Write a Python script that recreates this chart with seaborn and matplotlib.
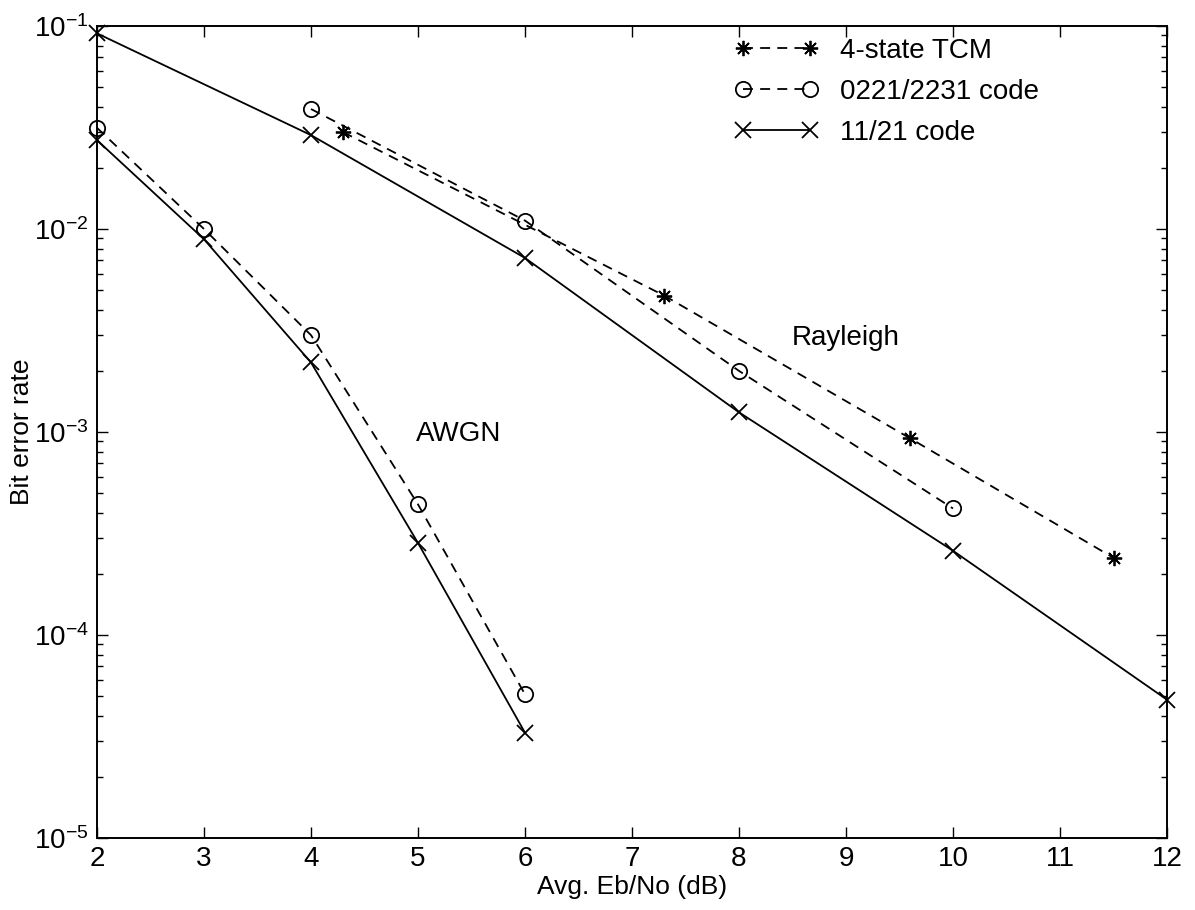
import numpy as np
import pandas as pd
import matplotlib
matplotlib.use("Agg")
import matplotlib.pyplot as plt
import seaborn as sns
from matplotlib.ticker import LogLocator, FixedLocator

# ---- data ----
tcm_x = [4.3, 7.3, 9.6, 11.5]
tcm_y = [0.030, 0.0047, 0.00093, 0.00024]

c0221_ray_x = [4, 6, 8, 10]
c0221_ray_y = [0.039, 0.011, 0.0020, 0.00042]

c1121_ray_x = [2, 4, 6, 8, 10, 12]
c1121_ray_y = [0.092, 0.029, 0.0072, 0.00125, 0.00026, 0.000048]

c0221_awgn_x = [2, 3, 4, 5, 6]
c0221_awgn_y = [0.0315, 0.010, 0.0030, 0.00044, 0.000051]

c1121_awgn_x = [2, 3, 4, 5, 6]
c1121_awgn_y = [0.0274, 0.0089, 0.0022, 0.000284, 0.000033]

labels = ["4-state TCM", "0221/2231 code", "11/21 code"]
x_ticks = [2, 3, 4, 5, 6, 7, 8, 9, 10, 11, 12]
y_ticks = [1e-5, 1e-4, 1e-3, 1e-2, 1e-1]
y_tick_labels = [r"$10^{-5}$", r"$10^{-4}$", r"$10^{-3}$", r"$10^{-2}$", r"$10^{-1}$"]

sns.set_style("ticks")
plt.rcParams["font.family"] = ["Liberation Sans", "DejaVu Sans"]
plt.rcParams["mathtext.fontset"] = "custom"
plt.rcParams["mathtext.rm"] = "Liberation Sans"
plt.rcParams["mathtext.it"] = "Liberation Sans:italic"
plt.rcParams["mathtext.bf"] = "Liberation Sans:bold"
plt.rcParams["text.color"] = "black"
plt.rcParams["axes.labelcolor"] = "black"
plt.rcParams["xtick.color"] = "black"
plt.rcParams["ytick.color"] = "black"

fig = plt.figure(figsize=(11.95, 9.10), dpi=100)
ax = fig.add_axes([97 / 1195, 1 - 838 / 910, (1167 - 97) / 1195, (838 - 26) / 910])

lw = 1.3
dash = (0, (5.5, 4.0))
common = dict(ax=ax, color="black", linewidth=lw, sort=False, estimator=None,
              markeredgecolor="black", markeredgewidth=1.3, clip_on=False)

sns.lineplot(x=tcm_x, y=tcm_y, marker=(8, 2, 0), markersize=11, linestyle=dash,
             label=labels[0], **common)
sns.lineplot(x=c0221_ray_x, y=c0221_ray_y, marker="o", markersize=11,
             markerfacecolor="none", linestyle=dash, label=labels[1], **common)
sns.lineplot(x=c1121_ray_x, y=c1121_ray_y, marker="x", markersize=12,
             linestyle="-", label=labels[2], **common)
sns.lineplot(x=c0221_awgn_x, y=c0221_awgn_y, marker="o", markersize=11,
             markerfacecolor="none", linestyle=dash, label="_nolegend_", **common)
sns.lineplot(x=c1121_awgn_x, y=c1121_awgn_y, marker="x", markersize=12,
             linestyle="-", label="_nolegend_", **common)

ax.set_yscale("log")
ax.set_xlim(2, 12)
ax.set_ylim(1e-5, 1e-1)
ax.xaxis.set_major_locator(FixedLocator(x_ticks))
ax.set_xticklabels([str(v) for v in x_ticks])
ax.yaxis.set_major_locator(FixedLocator(y_ticks))
ax.set_yticklabels(y_tick_labels)
ax.yaxis.set_minor_locator(LogLocator(base=10, subs=np.arange(2, 10), numticks=20))
ax.yaxis.set_minor_formatter(plt.NullFormatter())

ax.tick_params(which="both", direction="in", top=True, right=True, width=1.0,
               labelsize=20, colors="black")
ax.tick_params(which="major", length=8, pad=6)
ax.tick_params(which="minor", length=4)
for s in ax.spines.values():
    s.set_linewidth(1.4)
    s.set_color("black")

ax.set_xlabel("Avg. Eb/No (dB)", fontsize=19, labelpad=2, color="black")
ax.set_ylabel("Bit error rate", fontsize=19, color="black", va="center")
ax.yaxis.set_label_coords(-0.0705, 0.5)

ax.text(9.0, 2.9e-3, "Rayleigh", fontsize=20, ha="center", va="center", color="black")
ax.text(5.38, 9.8e-4, "AWGN", fontsize=20, ha="center", va="center", color="black")

handles, labs = ax.get_legend_handles_labels()
order = [labs.index(l) for l in labels]
leg = ax.legend([handles[i] for i in order], [labs[i] for i in order],
                loc="upper left", bbox_to_anchor=(0.596, 0.985), frameon=False,
                numpoints=2, handlelength=3.0, handletextpad=0.8, labelspacing=0.54,
                borderpad=0, borderaxespad=0, fontsize=20)
for t in leg.get_texts():
    t.set_color("black")

fig.savefig("out.png", dpi=100, facecolor="white")
